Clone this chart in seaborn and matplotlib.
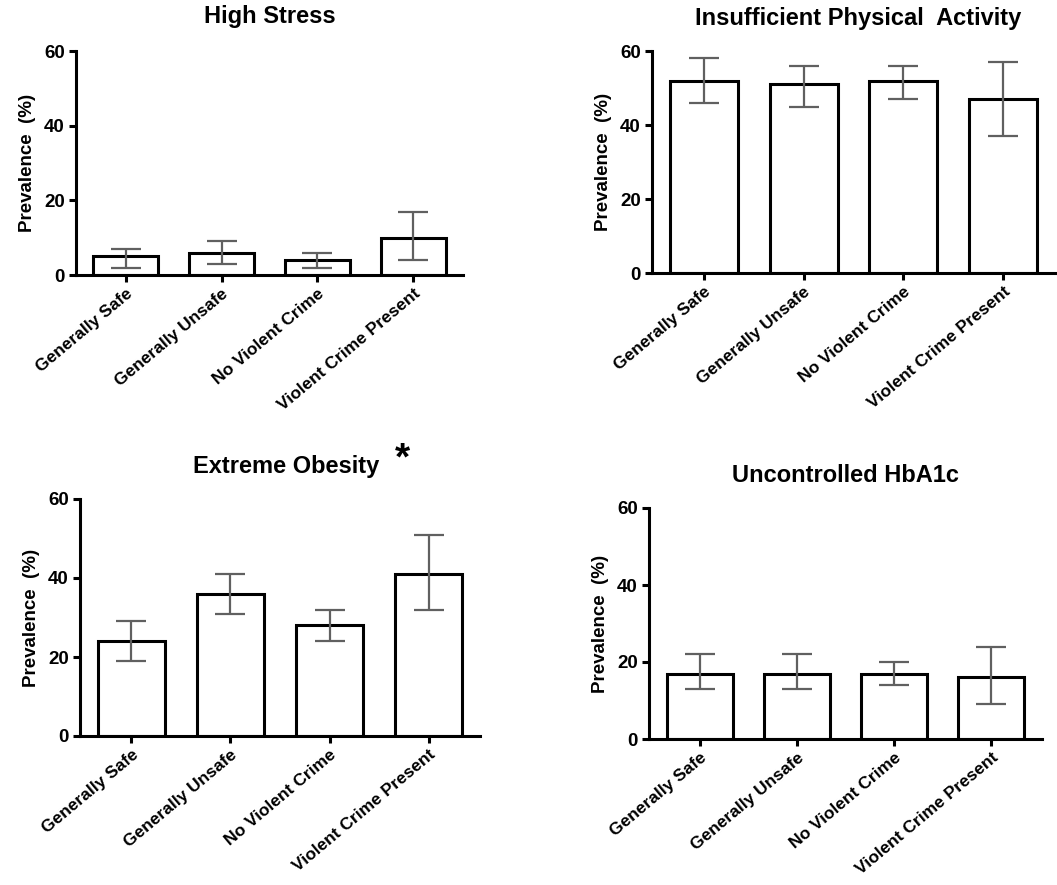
import matplotlib
matplotlib.use("Agg")
import matplotlib.pyplot as plt
import seaborn as sns
import pandas as pd

categories = ["Generally Safe", "Generally Unsafe", "No Violent Crime", "Violent Crime Present"]

stress_vals = [5, 6, 4, 10]
stress_lo = [2, 3, 2, 4]
stress_hi = [7, 9, 6, 17]

activity_vals = [52, 51, 52, 47]
activity_lo = [46, 45, 47, 37]
activity_hi = [58, 56, 56, 57]

obesity_vals = [24, 36, 28, 41]
obesity_lo = [19, 31, 24, 32]
obesity_hi = [29, 41, 32, 51]

hba1c_vals = [17, 17, 17, 16]
hba1c_lo = [13, 13, 14, 9]
hba1c_hi = [22, 22, 20, 24]

yticks = [0, 20, 40, 60]

sns.set_theme(style="ticks")
plt.rcParams['font.family'] = ['Liberation Sans', 'DejaVu Sans']
plt.rcParams['text.color'] = 'black'
plt.rcParams['axes.labelcolor'] = 'black'
plt.rcParams['xtick.color'] = 'black'
plt.rcParams['ytick.color'] = 'black'

W, H = 1057, 885
fig = plt.figure(figsize=(W / 100, H / 100), dpi=100)


def rect(l, r, t, b):
    return [l / W, 1 - b / H, (r - l) / W, (b - t) / H]


panels = [
    ("High Stress", stress_vals, stress_lo, stress_hi, rect(76, 463, 51, 275), (270, 16)),
    ("Insufficient Physical  Activity", activity_vals, activity_lo, activity_hi, rect(652, 1055, 51, 273), (858, 19)),
    ("Extreme Obesity", obesity_vals, obesity_lo, obesity_hi, rect(80, 480, 499, 736), (286, 466)),
    ("Uncontrolled HbA1c", hba1c_vals, hba1c_lo, hba1c_hi, rect(649, 1042, 508, 739), (846, 475)),
]

for title, vals, lo, hi, r, tpos in panels:
    ax = fig.add_axes(r)
    df = pd.DataFrame({"cat": categories, "val": vals})
    sns.barplot(data=df, x="cat", y="val", ax=ax, color="white", edgecolor="black",
                linewidth=2.2, width=0.68, errorbar=None, saturation=1)
    xs = list(range(len(categories)))
    yerr = [[v - l for v, l in zip(vals, lo)], [h - v for v, h in zip(vals, hi)]]
    ax.errorbar(xs, vals, yerr=yerr, fmt="none", ecolor="#606060", elinewidth=1.6,
                capsize=11, capthick=1.6, zorder=5)
    ax.set_ylim(0, 60)
    ax.set_xlim(-0.52, 3.52)
    ax.set_yticks(yticks)
    ax.set_yticklabels([str(t) for t in yticks], fontsize=13.5, fontweight="bold", color="black")
    ax.set_xticks(xs)
    ax.set_xticklabels(categories, rotation=40, ha="right", rotation_mode="anchor",
                       fontsize=12.5, fontweight="bold", color="black")
    ax.set_xlabel("")
    ax.set_ylabel("Prevalence  (%)", fontsize=13.5, fontweight="bold", labelpad=6, color="black")
    for s in ["top", "right"]:
        ax.spines[s].set_visible(False)
    for s in ["left", "bottom"]:
        ax.spines[s].set_linewidth(2.2)
        ax.spines[s].set_color("black")
    ax.tick_params(axis="both", direction="out", length=5, width=2.2, color="black", pad=3)
    ax.set_facecolor("white")
    fig.text(tpos[0] / W, 1 - tpos[1] / H, title, ha="center", va="center",
             fontsize=17, fontweight="bold", color="black")
    if title == "Extreme Obesity":
        fig.text(402 / W, 1 - 459 / H, "*", ha="center", va="center",
                 fontsize=28, fontweight="bold", color="black")

fig.savefig("out.png", dpi=100, facecolor="white")
